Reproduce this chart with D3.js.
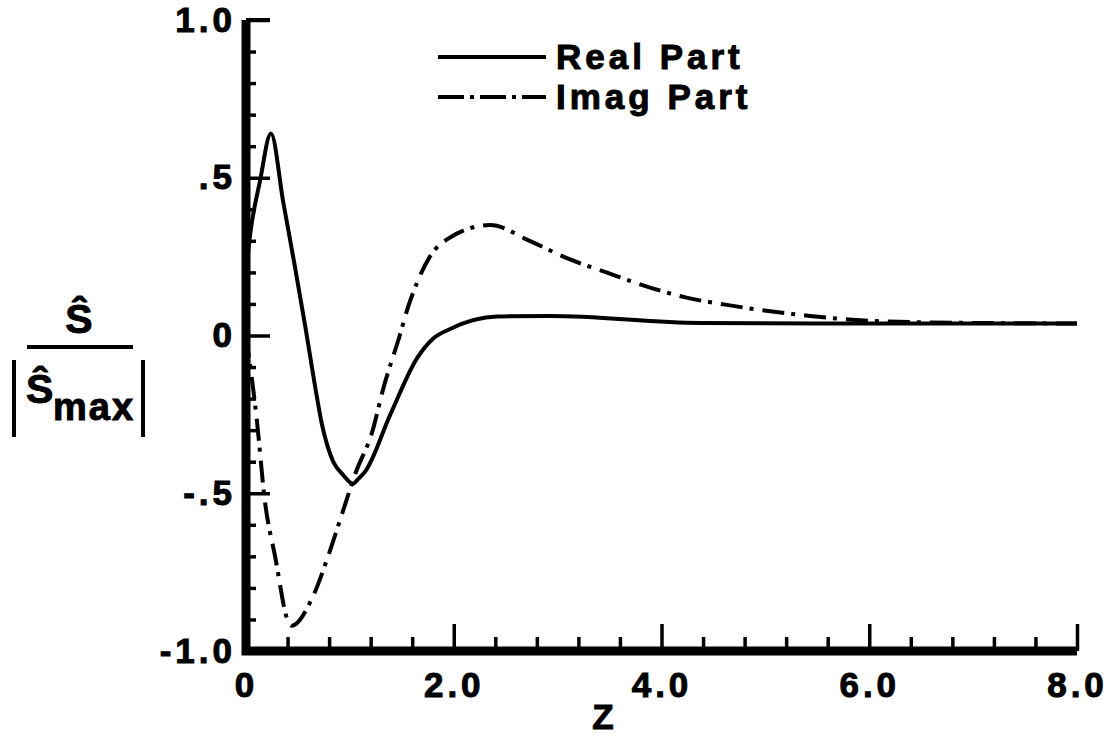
<!DOCTYPE html>
<html>
<head>
  <meta charset="UTF-8">
  <script src="https://d3js.org/d3.v7.min.js"></script>
<style>
  body { margin: 0; background: #fff; }
  text { font-family: "Liberation Sans", Arial, sans-serif; font-weight: bold; fill: #000; stroke: #000; stroke-width: 1px; }
</style>
</head>
<body>
<div id="my_dataviz"></div>
<script>

// real part (solid)
var realZ = [0, 0.04, 0.135, 0.24, 0.36, 0.47, 0.57, 0.68, 0.73, 0.78, 0.84, 0.93, 1.03, 1.08, 1.15, 1.39, 1.65, 1.80, 1.96, 2.42, 2.93, 4.37, 6.0, 8.0];
var realV = [0.20, 0.32, 0.49, 0.64, 0.42, 0.22, 0.03, -0.19, -0.28, -0.345, -0.40, -0.44, -0.47, -0.455, -0.43, -0.25, -0.07, -0.01, 0.02, 0.06, 0.062, 0.04, 0.038, 0.038];

// imag part (dash-dot)
var imagZ = [0, 0.105, 0.18, 0.28, 0.41, 0.44, 0.64, 0.79, 0.93, 1.05, 1.22, 1.32, 1.48, 1.56, 1.65, 1.77, 1.96, 2.35, 2.73, 3.09, 3.47, 3.86, 4.24, 4.63, 5.43, 5.84, 6.5, 8.0];
var imagV = [0, -0.27, -0.52, -0.70, -0.91, -0.92, -0.83, -0.70, -0.56, -0.44, -0.30, -0.17, 0.0, 0.09, 0.17, 0.25, 0.31, 0.35, 0.30, 0.245, 0.20, 0.155, 0.12, 0.097, 0.062, 0.05, 0.042, 0.038];

var xMajor = [0, 2, 4, 6, 8];
var xMajorLabels = ["0", "2.0", "4.0", "6.0", "8.0"];
var xMinor = [0.4, 0.8, 1.2, 1.6, 2.4, 2.8, 3.2, 3.6, 4.4, 4.8, 5.2, 5.6, 6.4, 6.8, 7.2, 7.6];
var yMajor = [1, 0.5, 0, -0.5, -1];
var yMajorLabels = ["1.0", ".5", "0", "-.5", "-1.0"];
var yMinor = [0.9, 0.8, 0.7, 0.6, 0.4, 0.3, 0.2, 0.1, -0.1, -0.2, -0.3, -0.4, -0.6, -0.7, -0.8, -0.9];

var legendNames = ["Real Part", "Imag Part"];

var width = 1118, height = 737;

var svg = d3.select("#my_dataviz")
  .append("svg")
    .attr("width", width)
    .attr("height", height);

var x = d3.scaleLinear().domain([0, 8]).range([246, 1077]);
var y = d3.scaleLinear().domain([-1, 1]).range([651, 20]);

var dashDot = "22,7,4,9";

// curves
var line = d3.line()
  .x(function(d) { return x(d[0]); })
  .y(function(d) { return y(d[1]); })
  .curve(d3.curveMonotoneX);

svg.append("path")
  .datum(d3.zip(realZ, realV))
  .attr("d", line)
  .attr("fill", "none")
  .attr("stroke", "#000")
  .attr("stroke-width", 4);

svg.append("path")
  .datum(d3.zip(imagZ, imagV))
  .attr("d", line)
  .attr("fill", "none")
  .attr("stroke", "#000")
  .attr("stroke-width", 4)
  .attr("stroke-dasharray", dashDot);

// Y axis, ticks point inward
var yAxis = svg.append("g")
  .attr("transform", "translate(" + x(0) + ",0)")
  .call(d3.axisLeft(y).tickValues(yMajor).tickSize(-24).tickPadding(10)
    .tickFormat(function(d, i) { return yMajorLabels[i]; }));
yAxis.select(".domain").remove();

svg.append("g")
  .attr("transform", "translate(" + x(0) + ",0)")
  .call(d3.axisLeft(y).tickValues(yMinor).tickSize(-10).tickFormat(""))
  .select(".domain").remove();

// X axis
var xAxis = svg.append("g")
  .attr("transform", "translate(0," + y(-1) + ")")
  .call(d3.axisBottom(x).tickValues(xMajor).tickSize(-27).tickPadding(21)
    .tickFormat(function(d, i) { return xMajorLabels[i]; }));
xAxis.select(".domain").remove();

svg.append("g")
  .attr("transform", "translate(0," + y(-1) + ")")
  .call(d3.axisBottom(x).tickValues(xMinor).tickSize(-14).tickFormat(""))
  .select(".domain").remove();

svg.selectAll(".tick line")
  .attr("stroke", "#000")
  .attr("stroke-width", 3.5);

svg.selectAll(".tick text")
  .style("font-family", "'Liberation Sans', Arial, sans-serif")
  .style("font-weight", "bold")
  .style("font-size", "35px")
  .style("letter-spacing", "4px")
  .style("stroke", "#000")
  .style("stroke-width", "1px")
  .attr("fill", "#000");

// heavy axis frame
svg.append("path")
  .attr("d", "M" + x(0) + "," + y(1) + "V" + y(-1) + "H" + x(8))
  .attr("fill", "none")
  .attr("stroke", "#000")
  .attr("stroke-width", 9)
  .attr("stroke-linejoin", "miter");
svg.append("line")
  .attr("x1", x(0)).attr("x2", x(0) + 24)
  .attr("y1", y(1)).attr("y2", y(1))
  .attr("stroke", "#000").attr("stroke-width", 4);

// x title
svg.append("text")
  .attr("x", 603).attr("y", 729)
  .attr("text-anchor", "middle")
  .style("font-size", "35px")
  .text("Z");

// y title: S-hat over |S-hat max|
svg.append("text")
  .attr("x", 79).attr("y", 333)
  .attr("text-anchor", "middle")
  .style("font-size", "41px")
  .text("Ŝ");
svg.append("line")
  .attr("x1", 27).attr("x2", 133)
  .attr("y1", 347).attr("y2", 347)
  .attr("stroke", "#000").attr("stroke-width", 4);
svg.append("line")
  .attr("x1", 14).attr("x2", 14).attr("y1", 360).attr("y2", 437)
  .attr("stroke", "#000").attr("stroke-width", 4);
svg.append("line")
  .attr("x1", 143).attr("x2", 143).attr("y1", 360).attr("y2", 437)
  .attr("stroke", "#000").attr("stroke-width", 4);
svg.append("text")
  .attr("x", 26).attr("y", 403)
  .style("font-size", "41px")
  .text("Ŝ");
svg.append("text")
  .attr("x", 53).attr("y", 420)
  .style("font-size", "38px")
  .style("letter-spacing", "2px")
  .text("max");

// legend
var legend = svg.append("g");
legend.selectAll("line")
  .data(legendNames)
  .enter()
  .append("line")
    .attr("x1", 438).attr("x2", 546)
    .attr("y1", function(d, i) { return 57 + i * 40; })
    .attr("y2", function(d, i) { return 57 + i * 40; })
    .attr("stroke", "#000")
    .attr("stroke-width", 4)
    .attr("stroke-dasharray", function(d, i) { return i == 0 ? null : "26,6,4,6"; });
legend.selectAll("text")
  .data(legendNames)
  .enter()
  .append("text")
    .attr("x", 556)
    .attr("y", function(d, i) { return 69 + i * 40; })
    .style("font-size", "35px")
    .style("letter-spacing", "4px")
    .text(function(d) { return d; });

</script>
</body>
</html>
